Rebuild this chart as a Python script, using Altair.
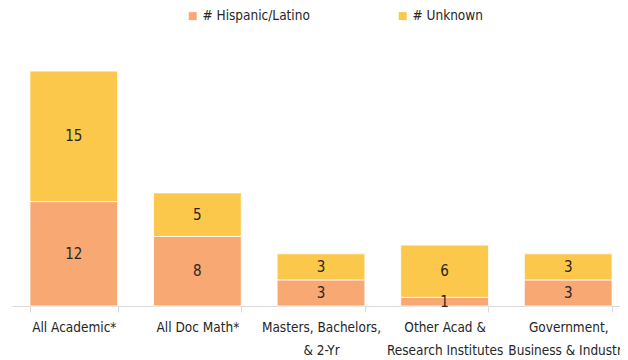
import altair as alt
import pandas as pd

categories = ["All Academic*", "All Doc Math*", "Masters, Bachelors,\n& 2-Yr",
              "Other Acad &\nResearch Institutes", "Government,\nBusiness & Industry"]
series_names = ["# Hispanic/Latino", "# Unknown"]
hispanic = [12, 8, 3, 1, 3]
unknown = [15, 5, 3, 6, 3]
colors = ["#F8A873", "#FCC84B"]

rows = []
for i, c in enumerate(categories):
    rows.append({"category": c, "series": series_names[0], "value": hispanic[i], "ord": 0})
    rows.append({"category": c, "series": series_names[1], "value": unknown[i], "ord": 1})
df = pd.DataFrame(rows)

FONT = "DejaVu Sans Condensed"

x_enc = alt.X("category:N", sort=categories, title=None,
              scale=alt.Scale(paddingInner=0.29, paddingOuter=0.145),
              axis=alt.Axis(labelExpr="split(datum.label, '\\n')", labelAngle=0,
                            labelFontSize=13.5, labelColor="#262626", labelFont=FONT,
                            labelLineHeight=23, labelPadding=8,
                            domainColor="#D9D9D9", tickColor="#D9D9D9",
                            tickBand="extent", tickSize=6, grid=False))

base = alt.Chart(df)

bars = base.mark_bar(stroke="white", strokeWidth=0.8).encode(
    x=x_enc,
    y=alt.Y("value:Q", stack="zero", scale=alt.Scale(domain=[0, 30]), axis=None),
    color=alt.Color("series:N", sort=series_names,
                    scale=alt.Scale(domain=series_names, range=colors),
                    legend=alt.Legend(title=None, orient="none", direction="horizontal",
                                      legendX=174, legendY=-36,
                                      symbolType="square", symbolSize=64,
                                      symbolStrokeWidth=0,
                                      labelFont=FONT, labelFontSize=13.5,
                                      labelColor="#262626", labelOffset=3,
                                      columnPadding=86)),
    order=alt.Order("ord:Q", sort="ascending"),
)

labels = base.transform_window(
    cum="sum(value)", groupby=["category"], sort=[alt.SortField("ord", order="ascending")],
    frame=[None, 0]
).transform_calculate(
    mid="datum.cum - datum.value / 2"
).mark_text(font=FONT, fontSize=15, color="#262626", baseline="middle").encode(
    x=alt.X("category:N", sort=categories),
    y=alt.Y("mid:Q"),
    text="value:Q",
)

chart = (bars + labels).properties(
    width=618, height=261,
    autosize=alt.AutoSizeParams(type="none"),
    padding={"left": 4, "top": 37, "right": -10, "bottom": 56},
).configure(font=FONT).configure_view(strokeWidth=0, stroke="transparent")

chart.save("out.html", embed_options={"renderer": "svg", "actions": False})
